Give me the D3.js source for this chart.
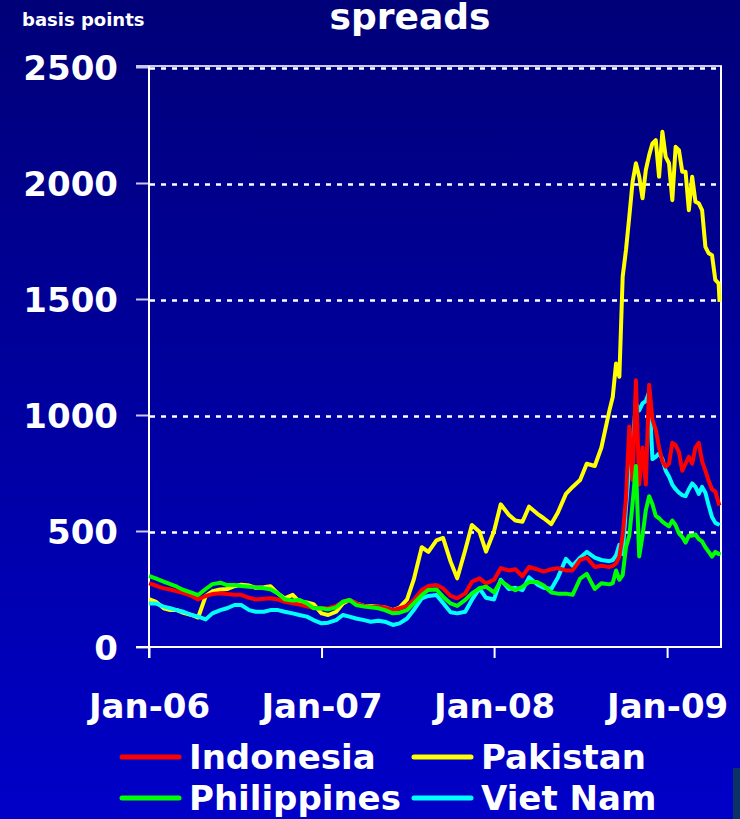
<!doctype html>
<html lang="en">
<head>
  <meta charset="utf-8">
  <title>spreads</title>
  <script type="text/javascript" src="https://cdnjs.cloudflare.com/ajax/libs/d3/7.8.5/d3.min.js"></script>
  <style>
    body { margin: 0; background: #00007a; }
    svg { display: block; }
  </style>
</head>
<body>
  <svg width="740" height="819" id="svg"></svg>
</body>
<script type="text/javascript">

  /* half-monthly readings until mid 2008, weekly from Sep 2008 */
  var dates = [
    '2006-01-01','2006-01-15','2006-02-01','2006-02-15','2006-03-01','2006-03-15','2006-04-01','2006-04-15',
    '2006-05-01','2006-05-15','2006-06-01','2006-06-15','2006-07-01','2006-07-15','2006-08-01','2006-08-15',
    '2006-09-01','2006-09-15','2006-10-01','2006-10-15','2006-11-01','2006-11-15','2006-12-01','2006-12-15',
    '2007-01-01','2007-01-15','2007-02-01','2007-02-15','2007-03-01','2007-03-15','2007-04-01','2007-04-15',
    '2007-05-01','2007-05-15','2007-06-01','2007-06-15','2007-07-01','2007-07-15','2007-08-01','2007-08-15',
    '2007-09-01','2007-09-15','2007-10-01','2007-10-15','2007-11-01','2007-11-15','2007-12-01','2007-12-15',
    '2008-01-01','2008-01-15','2008-02-01','2008-02-15','2008-03-01','2008-03-15','2008-04-01','2008-04-15',
    '2008-05-01','2008-05-15','2008-06-01','2008-06-15','2008-07-01','2008-07-15','2008-08-01','2008-08-15',
    '2008-09-01','2008-09-08','2008-09-15','2008-09-22','2008-09-29','2008-10-06','2008-10-13','2008-10-20',
    '2008-10-27','2008-11-03','2008-11-10','2008-11-17','2008-11-24','2008-12-01','2008-12-08','2008-12-15',
    '2008-12-22','2008-12-29','2009-01-05','2009-01-12','2009-01-19','2009-01-26','2009-02-02','2009-02-09',
    '2009-02-16','2009-02-23','2009-03-02','2009-03-09','2009-03-16','2009-03-23','2009-03-30','2009-04-06',
    '2009-04-13','2009-04-20','2009-04-22'
  ];

  var indonesia = [
    274,265,253,248,240,232,220,205,220,228,232,228,225,225,212,205,208,210,205,195,188,183,175,168,
    167,167,177,195,203,188,177,174,174,171,159,167,177,203,246,263,267,253,220,210,231,281,296,274,
    290,340,330,335,305,345,335,325,335,340,330,330,375,385,345,350,
    345,350,360,390,480,640,950,720,1150,700,860,700,1130,980,935,860,800,777,790,880,870,840,760,790,
    820,790,860,880,800,760,715,680,670,620,610
  ];
  var pakistan = [
    206,196,167,159,159,147,138,127,220,240,248,250,262,268,265,255,258,262,230,210,225,196,192,185,
    145,138,152,188,203,188,177,177,174,171,159,170,205,290,430,410,460,470,368,296,418,526,497,411,
    500,615,570,545,540,605,575,555,530,580,660,690,720,790,780,860,
    1020,1078,1222,1165,1596,1711,1855,2005,2085,2027,1934,2056,2120,2171,2185,2027,2221,2113,2085,1926,
    2156,2142,2049,2049,1883,2027,1919,1912,1883,1725,1697,1689,1582,1567,1488
  ];
  var philippines = [
    306,296,282,271,260,246,234,224,250,271,277,267,267,263,260,257,253,249,231,206,200,203,188,167,
    167,162,171,195,203,181,174,171,167,159,145,148,159,188,224,246,248,217,188,177,203,231,253,260,
    235,285,260,245,260,280,280,265,235,230,230,225,295,315,250,275,
    270,275,330,290,310,430,480,620,780,390,480,590,650,615,565,555,540,530,520,545,525,490,475,450,
    480,480,485,465,455,430,410,390,410,400,410
  ];
  var vietnam = [
    188,188,174,167,159,152,138,131,119,145,159,167,181,181,159,152,152,159,159,152,145,138,131,116,
    102,105,116,138,131,123,116,109,113,109,95,102,123,159,210,220,224,190,150,145,152,203,253,212,
    205,290,250,255,245,300,270,255,250,300,380,350,385,410,385,375,
    370,375,395,440,400,600,780,880,1050,1020,1050,1060,1100,810,820,835,810,760,735,700,680,665,655,650,
    680,705,690,660,690,665,610,560,535,528,525
  ];

  var seriesNames = ['Indonesia', 'Pakistan', 'Philippines', 'Viet Nam'];
  var seriesColors = ['#ff0000', '#ffff00', '#00ff00', '#00ffff'];
  var seriesValues = [indonesia, pakistan, philippines, vietnam];
  /* drawing order: Pakistan first, then the others on top */
  var drawOrder = [1, 3, 0, 2];

  var yTicks = [0, 500, 1000, 1500, 2000, 2500];
  var xTicks = ['2006-01-01', '2007-01-01', '2008-01-01', '2009-01-01'];
  var xTickLabels = ['Jan-06', 'Jan-07', 'Jan-08', 'Jan-09'];

  var parse = d3.timeParse('%Y-%m-%d');
  var svg = d3.select('#svg');
  var font = '"DejaVu Sans", Verdana, sans-serif';

  /* background gradient */
  var grad = svg.append('defs').append('linearGradient')
    .attr('id', 'bg').attr('x1', 0).attr('y1', 0).attr('x2', 0).attr('y2', 1);
  grad.append('stop').attr('offset', '0%').attr('stop-color', '#000078');
  grad.append('stop').attr('offset', '100%').attr('stop-color', '#0000c8');
  svg.append('rect').attr('width', 740).attr('height', 819).attr('fill', 'url(#bg)');
  svg.append('rect').attr('x', 733).attr('y', 768).attr('width', 7).attr('height', 51).attr('fill', '#0a3264');

  var x = d3.scaleTime()
    .domain([parse('2006-01-01'), parse('2009-04-25')])
    .range([149, 721]);
  var y = d3.scaleLinear().domain([0, 2500]).range([647, 67]);

  /* dotted gridlines */
  svg.append('g').selectAll('line')
    .data(yTicks.slice(1))
    .enter().append('line')
    .attr('x1', 150).attr('x2', 720)
    .attr('y1', function(d) { return y(d) + 1.5; }).attr('y2', function(d) { return y(d) + 1.5; })
    .attr('stroke', 'white').attr('stroke-width', 2.5).attr('stroke-dasharray', '5,6');

  /* y axis ticks and labels */
  var yAxis = d3.axisLeft(y).tickValues(yTicks).tickSize(12).tickPadding(18).tickFormat(d3.format('d'));
  var gy = svg.append('g').attr('transform', 'translate(148,0)').call(yAxis);
  gy.select('.domain').remove();
  gy.selectAll('line').attr('stroke', '#c8c8f0').attr('stroke-width', 2);
  gy.selectAll('text')
    .attr('fill', 'white').attr('font-family', font).attr('font-weight', 'bold')
    .attr('font-size', '34px').attr('dy', '0.36em');

  /* x axis */
  var xAxis = d3.axisBottom(x).tickValues(xTicks.map(parse)).tickSize(11).tickPadding(36)
    .tickFormat(function(d, i) { return xTickLabels[i]; });
  var gx = svg.append('g').attr('transform', 'translate(0,647)').call(xAxis);
  gx.select('.domain').remove();
  gx.selectAll('line').attr('stroke', 'white').attr('stroke-width', 2);
  gx.selectAll('text')
    .attr('fill', 'white').attr('font-family', font).attr('font-weight', 'bold')
    .attr('font-size', '34px');

  /* plot frame */
  svg.append('line').attr('x1', 136).attr('x2', 722).attr('y1', 66).attr('y2', 66)
    .attr('stroke', '#c8c8f0').attr('stroke-width', 2);
  svg.append('line').attr('x1', 136).attr('x2', 722).attr('y1', 647).attr('y2', 647)
    .attr('stroke', 'white').attr('stroke-width', 2);
  svg.append('line').attr('x1', 149).attr('x2', 149).attr('y1', 66).attr('y2', 658)
    .attr('stroke', 'white').attr('stroke-width', 2);
  svg.append('line').attr('x1', 721).attr('x2', 721).attr('y1', 66).attr('y2', 648)
    .attr('stroke', 'white').attr('stroke-width', 2);

  /* series */
  var line = d3.line()
    .x(function(d, i) { return x(parse(dates[i])); })
    .y(function(d) { return y(d); });

  svg.append('g').selectAll('path')
    .data(drawOrder)
    .enter().append('path')
    .attr('d', function(k) { return line(seriesValues[k]); })
    .attr('fill', 'none')
    .attr('stroke', function(k) { return seriesColors[k]; })
    .attr('stroke-width', 4)
    .attr('stroke-linejoin', 'round');

  /* titles */
  svg.append('text').attr('x', 410).attr('y', 29).attr('text-anchor', 'middle')
    .attr('fill', 'white').attr('font-family', font).attr('font-weight', 'bold')
    .attr('font-size', '36px').text('spreads');
  svg.append('text').attr('x', 22).attr('y', 26)
    .attr('fill', 'white').attr('font-family', font).attr('font-weight', 'bold')
    .attr('font-size', '18px').text('basis points');

  /* legend */
  var legendPos = [[122, 757], [414, 757], [122, 798], [414, 798]];
  var lg = svg.append('g').selectAll('g')
    .data(seriesNames)
    .enter().append('g')
    .attr('transform', function(d, i) { return 'translate(' + legendPos[i][0] + ',' + legendPos[i][1] + ')'; });
  lg.append('line').attr('x1', 0).attr('x2', 57).attr('y1', 0).attr('y2', 0)
    .attr('stroke', function(d, i) { return seriesColors[i]; })
    .attr('stroke-width', 5).attr('stroke-linecap', 'round');
  lg.append('text').attr('x', 67).attr('y', 12)
    .attr('fill', 'white').attr('font-family', font).attr('font-weight', 'bold')
    .attr('font-size', '34px').text(function(d) { return d; });

</script>
</html>
